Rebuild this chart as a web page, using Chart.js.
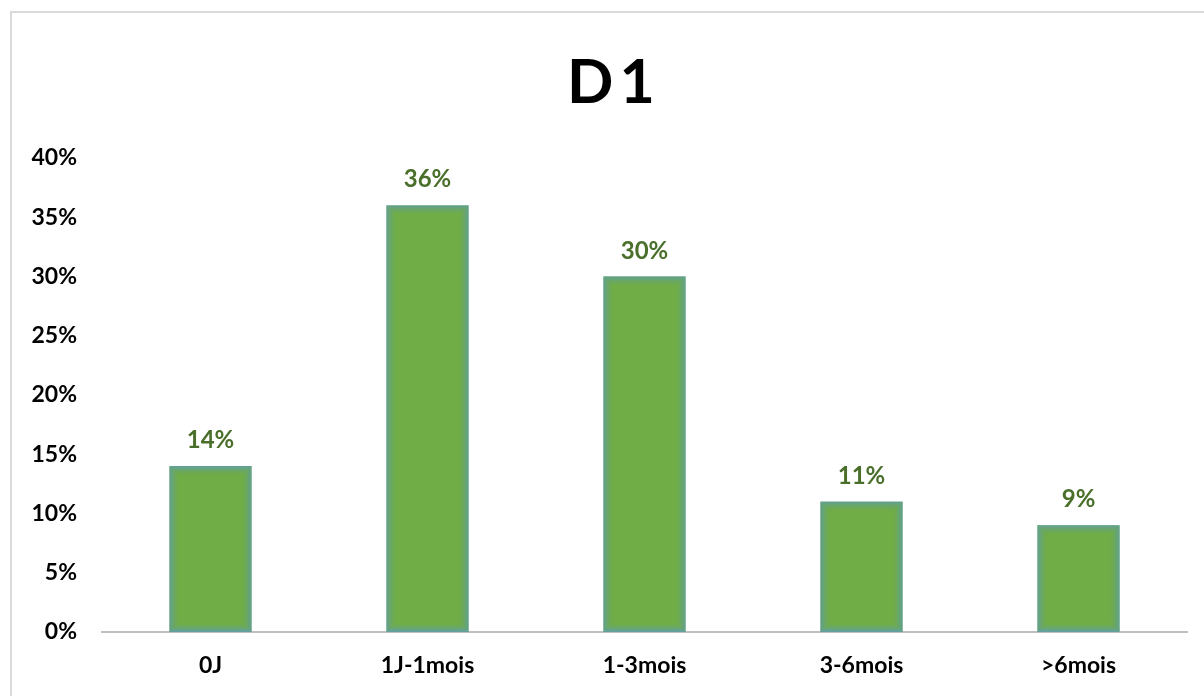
<!DOCTYPE html>
<html>
<head>
<meta charset="utf-8">
<style>
  html, body { margin: 0; padding: 0; background: #ffffff; }
  #wrap { position: relative; width: 1204px; height: 696px; }
</style>
<script src="https://cdn.jsdelivr.net/npm/chart.js@4.4.1/dist/chart.umd.min.js"></script>
</head>
<body>
<div id="wrap"><canvas id="chart" width="1204" height="696"></canvas></div>
<script>
// Durations and their share of cases (percent)
const categories = ['0J', '1J-1mois', '1-3mois', '3-6mois', '>6mois'];
const shares = [14, 36, 30, 11, 9];
const chartTitle = 'D1';

const FONT = 'Lato, "Open Sans", sans-serif';

// Light grey frame around the chart
const framePlugin = {
  id: 'frame',
  beforeDraw(chart) {
    const ctx = chart.ctx;
    ctx.save();
    ctx.strokeStyle = '#D9D9D9';
    ctx.lineWidth = 2;
    ctx.strokeRect(11, 12, chart.width + 20, chart.height + 20);
    ctx.restore();
  }
};

// Title centred above the plot
const titlePlugin = {
  id: 'bigTitle',
  afterDraw(chart) {
    const ctx = chart.ctx;
    ctx.save();
    ctx.font = 'bold 61px ' + FONT;
    if ('letterSpacing' in ctx) ctx.letterSpacing = '6px';
    ctx.fillStyle = '#000000';
    ctx.textAlign = 'center';
    ctx.textBaseline = 'alphabetic';
    ctx.fillText(chartTitle, 614, 103);
    ctx.restore();
  }
};

// Soft teal rim fading into each bar, then the value label above it
const barDecorPlugin = {
  id: 'barDecor',
  afterDatasetsDraw(chart) {
    const ctx = chart.ctx;
    const meta = chart.getDatasetMeta(0);
    ctx.save();
    meta.data.forEach((bar, i) => {
      const p = bar.getProps(['x', 'y', 'base', 'width'], true);
      const left = p.x - p.width / 2;
      const top = p.y;
      const h = p.base - p.y;
      const steps = 9;
      for (let k = 0; k < steps; k++) {
        const a = 0.95 * Math.pow(1 - k / steps, 1.6);
        ctx.strokeStyle = 'rgba(96,158,165,' + a.toFixed(3) + ')';
        ctx.lineWidth = 1;
        ctx.strokeRect(left + k + 0.5, top + k + 0.5, p.width - 2 * k - 1, h - 2 * k - 1);
      }
      ctx.font = 'bold 24px ' + FONT;
      ctx.fillStyle = '#4A6F2A';
      ctx.textAlign = 'center';
      ctx.textBaseline = 'alphabetic';
      ctx.fillText(shares[i] + '%', p.x, top - 18);
    });
    ctx.restore();
  }
};

new Chart(document.getElementById('chart'), {
  type: 'bar',
  data: {
    labels: categories,
    datasets: [{
      data: shares,
      backgroundColor: '#70AD47',
      borderWidth: 0,
      categoryPercentage: 1.0,
      barPercentage: 0.378
    }]
  },
  options: {
    responsive: false,
    animation: false,
    events: [],
    layout: { padding: { top: 158, right: 17, left: 0, bottom: 0 } },
    plugins: {
      legend: { display: false },
      tooltip: { enabled: false },
      title: { display: false }
    },
    scales: {
      x: {
        grid: { display: false, drawTicks: false },
        border: { display: true, color: '#BFBFBF', width: 2 },
        ticks: {
          color: '#000000',
          font: { family: FONT, size: 23, weight: 'bold' },
          padding: 20,
          maxRotation: 0
        },
        afterFit(scale) { scale.height = 64; }
      },
      y: {
        min: 0,
        max: 40,
        grid: { display: false, drawTicks: false },
        border: { display: false },
        ticks: {
          stepSize: 5,
          color: '#000000',
          font: { family: FONT, size: 23, weight: 'bold' },
          padding: 25,
          callback: v => v + '%'
        },
        afterFit(scale) { scale.width = 102; }
      }
    }
  },
  plugins: [framePlugin, titlePlugin, barDecorPlugin]
});
</script>
</body>
</html>
